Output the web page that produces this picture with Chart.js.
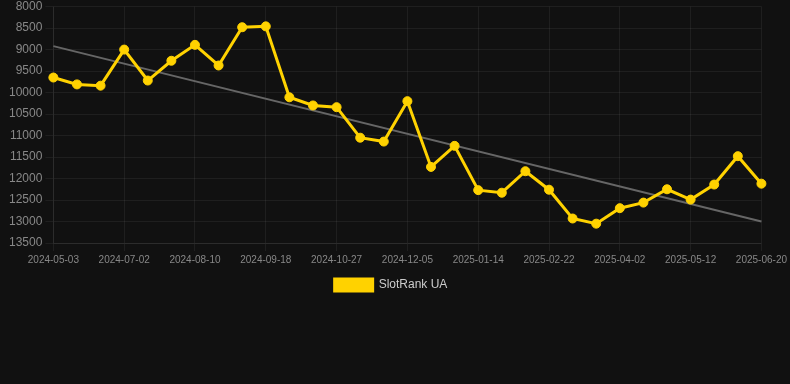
<!DOCTYPE html>
<html>
<head>
<meta charset="utf-8">
<script src="https://cdn.jsdelivr.net/npm/chart.js@4/dist/chart.umd.min.js"></script>
<style>
html,body{margin:0;padding:0;background:#111111;}
#wrap{width:790px;height:384px;position:relative;}
</style>
</head>
<body>
<div id="wrap"><canvas id="c"></canvas></div>
<script>
const dates = ["2024-05-03","2024-05-23","2024-06-12","2024-07-02","2024-07-15","2024-07-28","2024-08-10","2024-08-23","2024-09-05","2024-09-18","2024-10-01","2024-10-14","2024-10-27","2024-11-09","2024-11-22","2024-12-05","2024-12-18","2024-12-31","2025-01-14","2025-01-27","2025-02-09","2025-02-22","2025-03-07","2025-03-20","2025-04-02","2025-04-15","2025-04-28","2025-05-12","2025-05-25","2025-06-07","2025-06-20"];
const rankValues = [9650,9810,9840,9000,9720,9260,8890,9370,8480,8460,10110,10300,10340,11050,11140,10200,11730,11240,12270,12330,11830,12260,12930,13050,12690,12560,12250,12490,12140,11480,12120];
const trendStart = 8920;
const trendEnd = 13000;
const yTicks = [8000,8500,9000,9500,10000,10500,11000,11500,12000,12500,13000,13500];

const trendValues = dates.map((d,i)=> i===0 ? trendStart : (i===dates.length-1 ? trendEnd : null));

new Chart(document.getElementById('c'), {
  type: 'line',
  data: {
    labels: dates,
    datasets: [
      {
        label: 'SlotRank UA',
        data: rankValues,
        borderColor: '#FFD200',
        backgroundColor: '#FFD200',
        borderWidth: 3,
        pointRadius: 4.5,
        pointHoverRadius: 4.5,
        pointBorderWidth: 1,
        pointBackgroundColor: '#FFD200',
        pointBorderColor: '#FFD200',
        tension: 0
      },
      {
        label: 'trend',
        data: trendValues,
        spanGaps: true,
        borderColor: '#666666',
        borderWidth: 2,
        pointRadius: 0,
        fill: false
      }
    ]
  },
  options: {
    responsive: true,
    maintainAspectRatio: false,
    animation: false,
    layout: { padding: { top: 0, bottom: 83, right: 14, left: 6 } },
    plugins: {
      legend: {
        position: 'bottom',
        labels: {
          color: '#cccccc',
          font: { size: 12, family: 'Liberation Sans, Arial, sans-serif' },
          boxWidth: 38,
          boxHeight: 12,
          filter: (item) => item.text !== 'trend'
        }
      },
      tooltip: { enabled: false }
    },
    scales: {
      x: {
        grid: {
          color: (ctx) => (ctx.index % 3 === 0 ? 'rgba(255,255,255,0.06)' : 'rgba(0,0,0,0)'),
          tickColor: (ctx) => (ctx.index % 3 === 0 ? 'rgba(255,255,255,0.06)' : 'rgba(0,0,0,0)')
        },
        border: { color: 'rgba(255,255,255,0.06)' },
        ticks: {
          autoSkip: false,
          maxRotation: 0,
          color: '#888888',
          font: { size: 10, family: 'Liberation Sans, Arial, sans-serif' },
          callback: function(v, i) { return i % 3 === 0 ? dates[i] : ''; }
        }
      },
      y: {
        reverse: true,
        min: 8000,
        max: 13500,
        afterBuildTicks: (axis) => { axis.ticks = yTicks.map(v => ({ value: v })); },
        grid: { color: 'rgba(255,255,255,0.06)' },
        border: { color: 'rgba(255,255,255,0.06)' },
        ticks: {
          color: '#888888',
          font: { size: 12, lineHeight: 0.6, family: 'Liberation Sans, Arial, sans-serif' },
          callback: (v) => String(v)
        }
      }
    }
  }
});
</script>
</body>
</html>
